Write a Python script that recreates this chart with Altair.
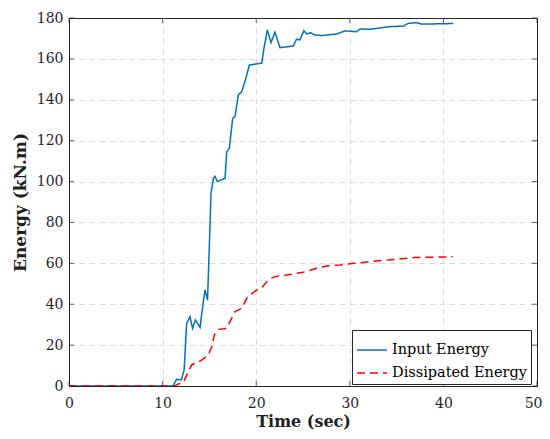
import altair as alt
import pandas as pd

# Input energy (solid blue)
input_t = [0, 5, 10, 11.1, 11.5, 12.0, 12.3, 12.57, 12.93, 13.2, 13.5, 14.0, 14.28, 14.53, 14.8,
           15.06, 15.17, 15.42, 15.6, 15.85, 16.67, 16.85, 17.13, 17.49, 17.74, 18.09, 18.45, 18.8,
           19.27, 20.6, 20.8, 21.19, 21.58, 22.0, 22.54, 23.96, 24.3, 24.68, 25.1, 25.4, 25.8, 26.28,
           27.0, 28.6, 29.5, 30.7, 31.1, 32.2, 34.3, 35.7, 36.25, 37.1, 37.7, 41.06]
input_e = [0, 0, 0, 0, 3.3, 3, 7.8, 30.7, 33.9, 28.2, 32.3, 28.7, 38.8, 47, 42,
           78, 94.3, 101.6, 102.5, 100, 101.6, 114.6, 116.3, 131, 131.8, 142.4, 144, 148.9,
           157, 157.9, 164.4, 174.2, 168, 173, 165.5, 166.3, 169.6, 169.3, 173.8, 172.2, 172.8, 171.7,
           171.4, 172.2, 173.7, 173.3, 174.6, 174.5, 175.8, 176, 177.4, 177.7, 177, 177.3]

# Dissipated energy (dashed red)
diss_t = [0, 5, 10, 11.3, 11.68, 12.2, 12.75, 13.1, 13.64, 14.18, 14.9, 15.25, 15.53, 15.95, 16.85,
          17.2, 17.74, 18.45, 18.99, 19.34, 20.05, 20.6, 21.3, 22.0, 23.26, 25.0, 26.46, 27.5, 28.95,
          30.5, 32.5, 35.0, 37.0, 38.5, 41.0]
diss_e = [0, 0, 0, 0, 1, 1.6, 7, 10.3, 11.4, 12.7, 15.2, 19.2, 25, 27.7, 28.2,
          31.5, 36.4, 38, 42.9, 44.5, 47, 48.1, 51.9, 53.5, 54.3, 55.6, 57.6, 58.7, 59.2,
          60, 61, 62, 62.8, 63, 63.2]

series_names = ["Input Energy", "Dissipated Energy"]
x_ticks = [0, 10, 20, 30, 40, 50]
y_ticks = [0, 20, 40, 60, 80, 100, 120, 140, 160, 180]

df = pd.concat([
    pd.DataFrame({"t": input_t, "e": input_e, "series": series_names[0], "o": 0}),
    pd.DataFrame({"t": diss_t, "e": diss_e, "series": series_names[1], "o": 1}),
], ignore_index=True)

FONT = "DejaVu Serif"
AX = "#262626"

xscale = alt.Scale(domain=[0, 50], nice=False)
yscale = alt.Scale(domain=[0, 180], nice=False)

legend = alt.Legend(title=None, orient="none", legendX=283, legendY=312)

lines = alt.Chart(df).mark_line(strokeWidth=1.5, clip=True).encode(
    x=alt.X("t:Q", scale=xscale, title="Time (sec)",
            axis=alt.Axis(values=x_ticks, labelPadding=10, titlePadding=3, titleFontSize=16,
                          labelAlign={"condition": {"test": "datum.value === 50", "value": "right"}, "value": "center"},
                          labelOffset={"condition": {"test": "datum.value === 50", "value": 5}, "value": 0},
                          gridOpacity={"condition": {"test": "datum.value === 50", "value": 0}, "value": 1})),
    y=alt.Y("e:Q", scale=yscale, title="Energy (kN.m)",
            axis=alt.Axis(values=y_ticks, labelPadding=6, titlePadding=7, titleFontSize=17,
                          gridOpacity={"condition": {"test": "datum.value === 180", "value": 0}, "value": 1})),
    color=alt.Color("series:N", scale=alt.Scale(domain=series_names, range=["#0072BD", "#FF0000"]),
                    legend=legend),
    strokeDash=alt.StrokeDash("series:N", scale=alt.Scale(domain=series_names, range=[[1, 0], [8, 5]]),
                              legend=legend),
    order="o:Q",
)

xt = pd.DataFrame({"x": x_ticks})
yt = pd.DataFrame({"y": y_ticks})
tb = alt.Chart(xt).mark_tick(orient="vertical", size=5, thickness=1, color=AX, yOffset=-2.5).encode(
    x=alt.X("x:Q", scale=xscale), y=alt.datum(0))
tt = alt.Chart(xt).mark_tick(orient="vertical", size=5, thickness=1, color=AX, yOffset=2.5).encode(
    x=alt.X("x:Q", scale=xscale), y=alt.datum(180))
tl = alt.Chart(yt).mark_tick(orient="horizontal", size=5, thickness=1, color=AX, xOffset=2.5).encode(
    y=alt.Y("y:Q", scale=yscale), x=alt.datum(0))
tr = alt.Chart(yt).mark_tick(orient="horizontal", size=5, thickness=1, color=AX, xOffset=-2.5).encode(
    y=alt.Y("y:Q", scale=yscale), x=alt.datum(50))

chart = alt.layer(lines, tb, tt, tl, tr).properties(
    width=468, height=368,
    autosize=alt.AutoSizeParams(type="none"),
    padding={"left": 61, "top": 10, "right": 5, "bottom": 45},
    background="white",
).configure_view(
    stroke=AX, strokeWidth=1
).configure_axis(
    labelFont=FONT, labelFontSize=14, labelColor="#1f1f1f", labelFlush=False,
    titleFont=FONT, titleFontWeight="bold", titleColor="#1f1f1f",
    domainColor=AX, ticks=False,
    grid=True, gridColor="#dcdcdc", gridDash=[6, 4], gridWidth=1,
).configure_legend(
    labelFont=FONT, labelFontSize=14.5, labelColor="#000000",
    strokeColor=AX, fillColor="white", padding=4,
    symbolType="stroke", symbolSize=900, symbolStrokeWidth=1.5, rowPadding=-2,
    labelOffset=4,
)

chart.save("out.html", embed_options={"renderer": "svg", "actions": False})
